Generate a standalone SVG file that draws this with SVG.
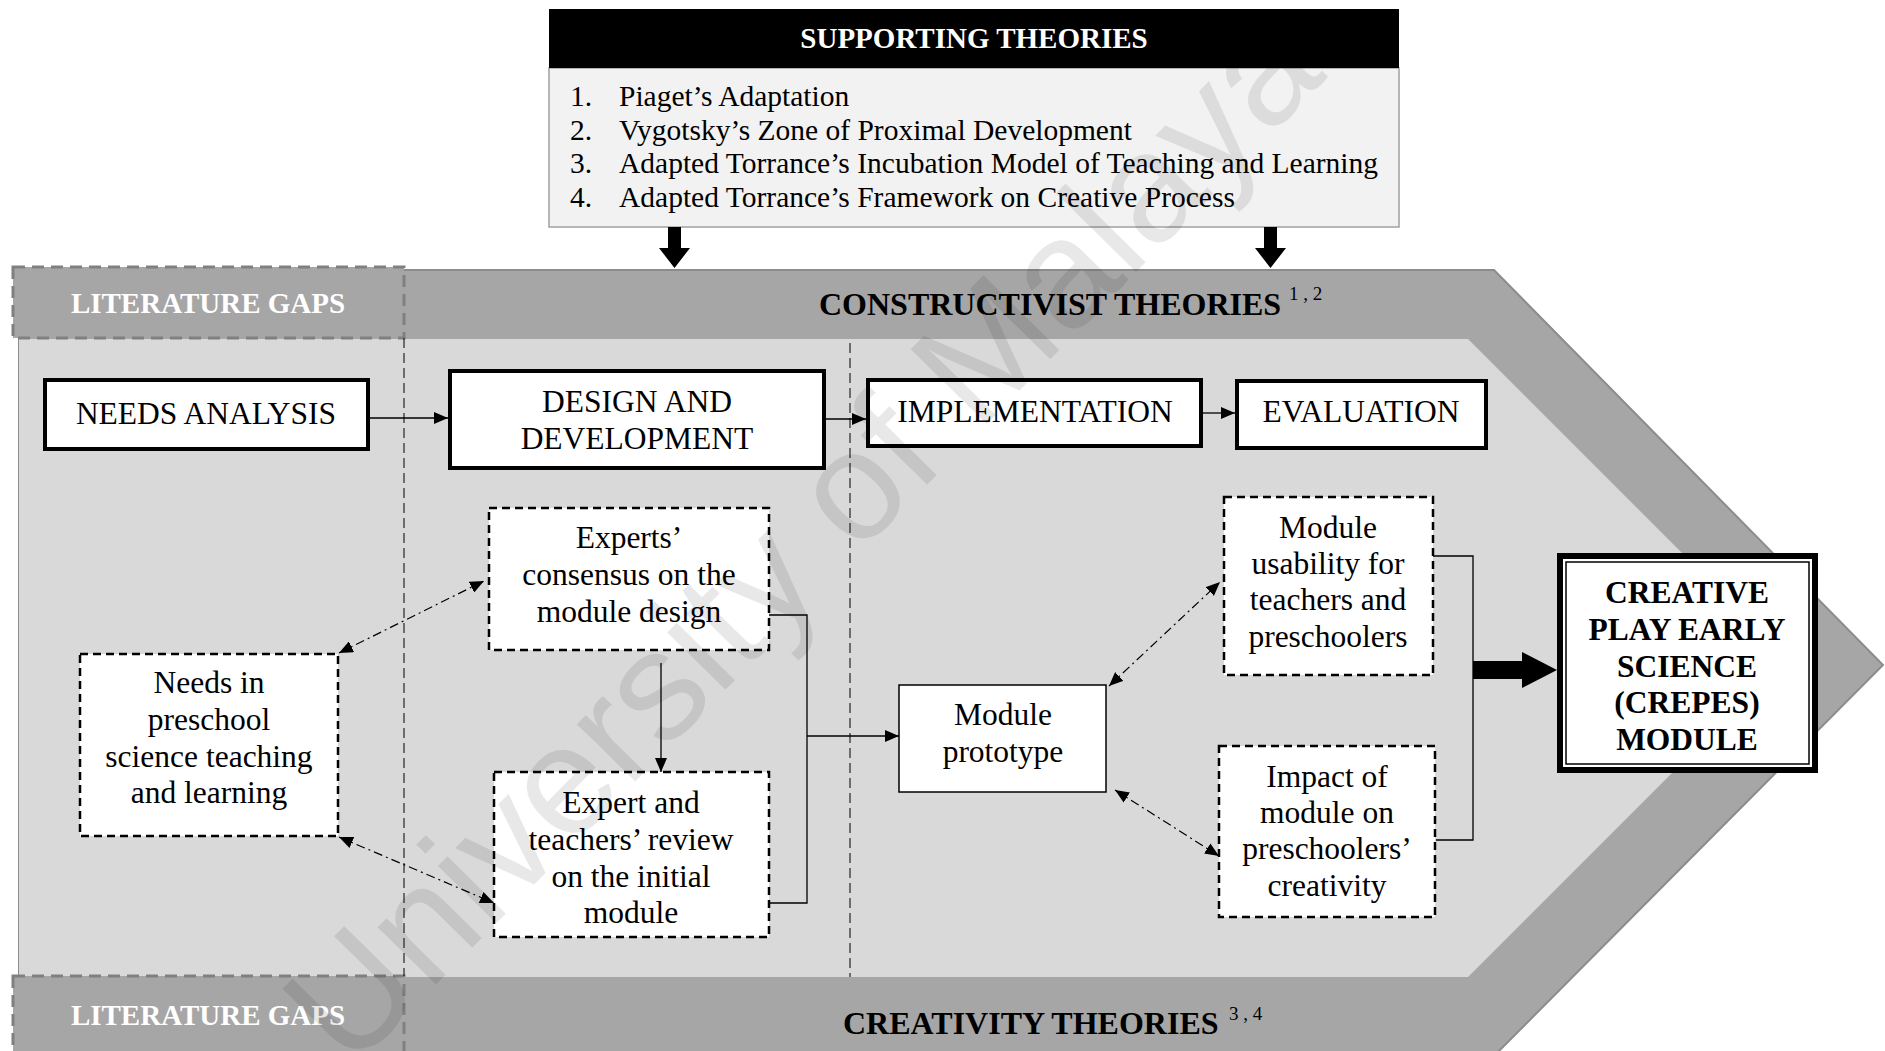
<svg xmlns="http://www.w3.org/2000/svg" width="1885" height="1051" viewBox="0 0 1885 1051">
  <style>
    text { font-family: "Liberation Serif", "Times New Roman", serif; }
    .lbl { font-size: 31.5px; text-anchor: middle; fill: #000; }
    .hd { font-size: 32px; font-weight: bold; fill: #000; }
    .gap { font-size: 29px; font-weight: bold; fill: #fff; text-anchor: middle; }
    .sup { font-size: 19px; fill: #000; }
    .list { font-size: 29.5px; fill: #000; }
    .stage { fill: #fff; stroke: #000; stroke-width: 4; }
    .dash { fill: #fff; stroke: #000; stroke-width: 2.5; stroke-dasharray: 8 5; }
    .plain { fill: #fff; stroke: #000; stroke-width: 1.5; }
    .gapbox { fill: #a6a6a6; stroke: #808080; stroke-width: 3; stroke-dasharray: 12 7; }
    .sep { stroke: #000; stroke-width: 1; stroke-dasharray: 10 5; fill: none; }
    .conn { stroke: #000; stroke-width: 1.3; fill: none; }
    .dd { stroke: #000; stroke-width: 1.2; stroke-dasharray: 9 4 2 4; fill: none; }
    .wm { font-family: "Liberation Sans", Arial, sans-serif; font-size: 155px; fill: #000; fill-opacity: 0.09; }
  </style>
  <defs>
    <marker id="ah" viewBox="0 0 14 12" refX="14" refY="6" markerWidth="14" markerHeight="12" markerUnits="userSpaceOnUse" orient="auto-start-reverse">
      <path d="M0,0 L14,6 L0,12 z" fill="#000"/>
    </marker>
  </defs>

  <rect width="1885" height="1051" fill="#fff"/>

  <!-- chevron band: outer dark shell and inner light field -->
  <g id="band">
    <polygon points="19,270 1494,270 1883,665 1490,1060 19,1060" fill="#a6a6a6" stroke="#8c8c8c" stroke-width="2"/>
    <polygon points="19,339 1468,339 1787,658 1468,977 19,977" fill="#d9d9d9"/>
    <rect x="13" y="267" width="391" height="71" class="gapbox"/>
    <rect x="13" y="976" width="391" height="90" class="gapbox"/>
    <text x="208" y="313" class="gap">LITERATURE GAPS</text>
    <text x="208" y="1025" class="gap">LITERATURE GAPS</text>
    <text x="819" y="315" class="hd">CONSTRUCTIVIST THEORIES</text>
    <text x="1289" y="300" class="sup">1 , 2</text>
    <text x="843" y="1034" class="hd">CREATIVITY THEORIES</text>
    <text x="1229" y="1020" class="sup">3 , 4</text>
    <line x1="404" y1="338" x2="404" y2="976" class="sep"/>
    <line x1="850" y1="343" x2="850" y2="977" class="sep"/>
  </g>

  <!-- supporting theories panel -->
  <g id="supporting">
    <rect x="549" y="68" width="850" height="159" fill="#f2f2f2" stroke="#a0a0a0" stroke-width="1.5"/>
    <rect x="549" y="9" width="850" height="59" fill="#000"/>
    <text x="974" y="48" font-size="29" font-weight="bold" fill="#fff" text-anchor="middle">SUPPORTING THEORIES</text>
    <text class="list" x="570" y="106">1.</text>
    <text class="list" x="619" y="106">Piaget’s Adaptation</text>
    <text class="list" x="570" y="140">2.</text>
    <text class="list" x="619" y="140">Vygotsky’s Zone of Proximal Development</text>
    <text class="list" x="570" y="173">3.</text>
    <text class="list" x="619" y="173">Adapted Torrance’s Incubation Model of Teaching and Learning</text>
    <text class="list" x="570" y="207">4.</text>
    <text class="list" x="619" y="207">Adapted Torrance’s Framework on Creative Process</text>
  </g>

  <g id="needs-analysis">
    <rect x="45" y="380" width="323" height="69" class="stage"/>
    <text x="206" y="424" class="lbl" font-size="32">NEEDS ANALYSIS</text>
  </g>
  <g id="design-development">
    <rect x="450" y="371" width="374" height="97" class="stage"/>
    <text x="637" y="412" class="lbl">DESIGN AND</text>
    <text x="637" y="449" class="lbl">DEVELOPMENT</text>
  </g>
  <g id="implementation">
    <rect x="868" y="380" width="333" height="66" class="stage"/>
    <text x="1035" y="422" class="lbl">IMPLEMENTATION</text>
  </g>
  <g id="evaluation">
    <rect x="1237" y="381" width="249" height="67" class="stage"/>
    <text x="1361" y="422" class="lbl">EVALUATION</text>
  </g>

  <g id="needs-preschool">
    <rect x="80" y="654" width="258" height="182" class="dash"/>
    <text class="lbl" x="209" y="693">Needs in</text>
    <text class="lbl" x="209" y="730">preschool</text>
    <text class="lbl" x="209" y="767">science teaching</text>
    <text class="lbl" x="209" y="803">and learning</text>
  </g>
  <g id="experts-consensus">
    <rect x="489" y="508" width="280" height="142" class="dash"/>
    <text class="lbl" x="629" y="548">Experts’</text>
    <text class="lbl" x="629" y="585">consensus on the</text>
    <text class="lbl" x="629" y="622">module design</text>
  </g>
  <g id="expert-review">
    <rect x="494" y="772" width="275" height="165" class="dash"/>
    <text class="lbl" x="631" y="813">Expert and</text>
    <text class="lbl" x="631" y="850">teachers’ review</text>
    <text class="lbl" x="631" y="887">on the initial</text>
    <text class="lbl" x="631" y="923">module</text>
  </g>
  <g id="module-prototype">
    <rect x="899" y="685" width="207" height="107" class="plain"/>
    <text class="lbl" x="1003" y="725">Module</text>
    <text class="lbl" x="1003" y="762">prototype</text>
  </g>
  <g id="module-usability">
    <rect x="1224" y="497" width="209" height="178" class="dash"/>
    <text class="lbl" x="1328" y="538">Module</text>
    <text class="lbl" x="1328" y="574">usability for</text>
    <text class="lbl" x="1328" y="610">teachers and</text>
    <text class="lbl" x="1328" y="647">preschoolers</text>
  </g>
  <g id="module-impact">
    <rect x="1219" y="746" width="216" height="171" class="dash"/>
    <text class="lbl" x="1327" y="787">Impact of</text>
    <text class="lbl" x="1327" y="823">module on</text>
    <text class="lbl" x="1327" y="859">preschoolers’</text>
    <text class="lbl" x="1327" y="896">creativity</text>
  </g>
  <g id="crepes-module">
    <rect x="1560" y="556" width="255" height="214" fill="#fff" stroke="#000" stroke-width="6"/>
    <rect x="1566" y="562" width="243" height="202" fill="none" stroke="#000" stroke-width="1.5"/>
    <text class="lbl" x="1687" y="603" font-size="32" font-weight="bold">CREATIVE</text>
    <text class="lbl" x="1687" y="640" font-size="32" font-weight="bold">PLAY EARLY</text>
    <text class="lbl" x="1687" y="677" font-size="32" font-weight="bold">SCIENCE</text>
    <text class="lbl" x="1687" y="713" font-size="32" font-weight="bold">(CREPES)</text>
    <text class="lbl" x="1687" y="750" font-size="32" font-weight="bold">MODULE</text>
  </g>

  <g id="connectors">
    <!-- theory feeds into the band -->
    <polygon points="668,227 681,227 681,248 690,248 674.5,268 659,248 668,248" fill="#000"/>
    <polygon points="1264,227 1277,227 1277,248 1286,248 1270.5,268 1255,248 1264,248" fill="#000"/>
    <!-- phase sequence -->
    <line x1="370" y1="418" x2="448" y2="418" class="conn" marker-end="url(#ah)"/>
    <line x1="826" y1="419" x2="866" y2="419" class="conn" marker-end="url(#ah)"/>
    <line x1="1203" y1="413" x2="1235" y2="413" class="conn" marker-end="url(#ah)"/>
    <!-- design stage -->
    <line x1="661" y1="663" x2="661" y2="772" class="conn" marker-end="url(#ah)"/>
    <path d="M769,615 H807 V903 H769" class="conn"/>
    <line x1="807" y1="736" x2="899" y2="736" class="conn" marker-end="url(#ah)"/>
    <line x1="339" y1="653" x2="484" y2="581" class="dd" marker-start="url(#ah)" marker-end="url(#ah)"/>
    <line x1="339" y1="837" x2="494" y2="903" class="dd" marker-start="url(#ah)" marker-end="url(#ah)"/>
    <!-- evaluation stage -->
    <line x1="1109" y1="686" x2="1220" y2="582" class="dd" marker-start="url(#ah)" marker-end="url(#ah)"/>
    <line x1="1115" y1="790" x2="1219" y2="856" class="dd" marker-start="url(#ah)" marker-end="url(#ah)"/>
    <path d="M1433,556 H1473 V840 H1436" class="conn"/>
    <polygon points="1473,661 1522,661 1522,652 1557,670 1522,688 1522,679 1473,679" fill="#000"/>
  </g>

  <!-- watermark -->
  <g id="watermark">
    <text class="wm" transform="translate(350,1072) rotate(-45.5)">University of Malaya</text>
  </g>
</svg>
